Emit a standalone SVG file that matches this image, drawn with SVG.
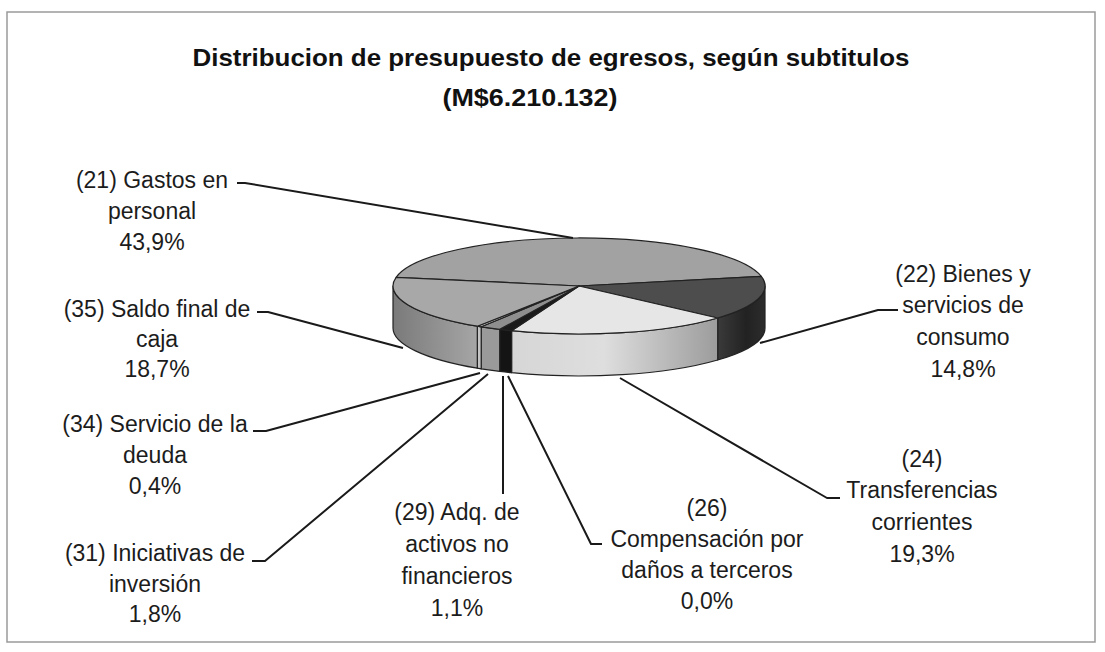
<svg xmlns="http://www.w3.org/2000/svg" width="1105" height="652" viewBox="0 0 1105 652">
  <style>
    .lbl { font-family: "Liberation Sans", Arial, sans-serif; font-size: 23px; fill: #1c1c1c; text-anchor: middle; }
    .ttl { font-family: "Liberation Sans", Arial, sans-serif; font-size: 24px; font-weight: bold; fill: #111; text-anchor: middle; }
    .ld { fill: none; stroke: #1a1a1a; stroke-width: 2; stroke-linejoin: round; }
    .edge { stroke: #222; stroke-width: 1.2; stroke-linejoin: round; }
  </style>
  <defs>
    <linearGradient id="g35" gradientUnits="userSpaceOnUse" x1="393" y1="0" x2="478" y2="0">
      <stop offset="0" stop-color="#7a7a7a"/>
      <stop offset="1" stop-color="#a6a6a6"/>
    </linearGradient>
    <linearGradient id="g24" gradientUnits="userSpaceOnUse" x1="511" y1="0" x2="718" y2="0">
      <stop offset="0" stop-color="#d6d6d6"/>
      <stop offset="0.45" stop-color="#dedede"/>
      <stop offset="1" stop-color="#9c9c9c"/>
    </linearGradient>
    <linearGradient id="g22" gradientUnits="userSpaceOnUse" x1="718" y1="0" x2="765" y2="0">
      <stop offset="0" stop-color="#3a3a3a"/>
      <stop offset="0.6" stop-color="#222"/>
      <stop offset="1" stop-color="#2c2c2c"/>
    </linearGradient>
  </defs>

  <rect x="7" y="12" width="1088" height="630" fill="#ffffff" stroke="#9a9a9a" stroke-width="1.5"/>

  <g id="title">
    <text class="ttl" x="551" y="66" textLength="717" lengthAdjust="spacingAndGlyphs">Distribucion de presupuesto de egresos, según subtitulos</text>
    <text class="ttl" x="530" y="106" textLength="175" lengthAdjust="spacingAndGlyphs">(M$6.210.132)</text>
  </g>

  <g id="pie">
    <g id="sides">
      <path class="edge" fill="url(#g22)" d="M765,286 A186,48 0 0 1 717.7,318 L717.7,360 A186,48 0 0 0 765,328 Z"/>
      <path class="edge" fill="url(#g24)" d="M717.7,318 A186,48 0 0 1 511.6,330.7 L511.6,372.7 A186,48 0 0 0 717.7,360 Z"/>
      <path class="edge" fill="#141414" d="M511.6,330.7 A186,48 0 0 1 499.7,329.4 L499.7,371.4 A186,48 0 0 0 511.6,372.7 Z"/>
      <path class="edge" fill="#9a9a9a" d="M499.7,329.4 A186,48 0 0 1 481.2,326.8 L481.2,368.8 A186,48 0 0 0 499.7,371.4 Z"/>
      <path class="edge" fill="#c4c4c4" d="M481.2,326.8 A186,48 0 0 1 477.3,326.2 L477.3,368.2 A186,48 0 0 0 481.2,368.8 Z"/>
      <path class="edge" fill="url(#g35)" d="M477.3,326.2 A186,48 0 0 1 393,286 L393,328 A186,48 0 0 0 477.3,368.2 Z"/>
    </g>
    <g id="slice-21"><path class="edge" fill="#a2a2a2" d="M579,286 L396.1,277.3 A186,48 0 0 1 761.3,276.4 Z"/></g>
    <g id="slice-22"><path class="edge" fill="#4d4d4d" d="M579,286 L761.3,276.4 A186,48 0 0 1 717.7,318 Z"/></g>
    <g id="slice-24"><path class="edge" fill="#e6e6e6" d="M579,286 L717.7,318 A186,48 0 0 1 511.6,330.7 Z"/></g>
    <g id="slice-29"><path class="edge" fill="#1a1a1a" d="M579,286 L511.6,330.7 A186,48 0 0 1 499.7,329.4 Z"/></g>
    <g id="slice-31"><path class="edge" fill="#8e8e8e" d="M579,286 L499.7,329.4 A186,48 0 0 1 481.2,326.8 Z"/></g>
    <g id="slice-34"><path class="edge" fill="#c8c8c8" d="M579,286 L481.2,326.8 A186,48 0 0 1 477.3,326.2 Z"/></g>
    <g id="slice-35"><path class="edge" fill="#a8a8a8" d="M579,286 L477.3,326.2 A186,48 0 0 1 396.1,277.3 Z"/></g>
  </g>

  <g id="connectors">
    <polyline class="ld" points="237,183 245,183 573,238"/>
    <polyline class="ld" points="257,312 268,312 403,348"/>
    <polyline class="ld" points="253,431 266,431 480,373"/>
    <polyline class="ld" points="252,561 265,561 488,374"/>
    <polyline class="ld" points="503,376 503,494"/>
    <polyline class="ld" points="508,376 591,544 602,544"/>
    <polyline class="ld" points="620,378 827,498 840,498"/>
    <polyline class="ld" points="760,343 878,310 898,310"/>
  </g>

  <g id="label-21">
    <text class="lbl" x="152" y="188">(21) Gastos en</text>
    <text class="lbl" x="152" y="219">personal</text>
    <text class="lbl" x="152" y="250">43,9%</text>
  </g>
  <g id="label-35">
    <text class="lbl" x="157" y="317">(35) Saldo final de</text>
    <text class="lbl" x="157" y="347">caja</text>
    <text class="lbl" x="157" y="377">18,7%</text>
  </g>
  <g id="label-34">
    <text class="lbl" x="155" y="432">(34) Servicio de la</text>
    <text class="lbl" x="155" y="463">deuda</text>
    <text class="lbl" x="155" y="494">0,4%</text>
  </g>
  <g id="label-31">
    <text class="lbl" x="155" y="561">(31) Iniciativas de</text>
    <text class="lbl" x="155" y="592">inversión</text>
    <text class="lbl" x="155" y="622">1,8%</text>
  </g>
  <g id="label-29">
    <text class="lbl" x="457" y="520">(29) Adq. de</text>
    <text class="lbl" x="457" y="552">activos no</text>
    <text class="lbl" x="457" y="584">financieros</text>
    <text class="lbl" x="457" y="616">1,1%</text>
  </g>
  <g id="label-26">
    <text class="lbl" x="707" y="516">(26)</text>
    <text class="lbl" x="707" y="547">Compensación por</text>
    <text class="lbl" x="707" y="578">daños a terceros</text>
    <text class="lbl" x="707" y="609">0,0%</text>
  </g>
  <g id="label-24">
    <text class="lbl" x="922" y="467">(24)</text>
    <text class="lbl" x="922" y="498">Transferencias</text>
    <text class="lbl" x="922" y="530">corrientes</text>
    <text class="lbl" x="922" y="562">19,3%</text>
  </g>
  <g id="label-22">
    <text class="lbl" x="963" y="282">(22) Bienes y</text>
    <text class="lbl" x="963" y="313">servicios de</text>
    <text class="lbl" x="963" y="345">consumo</text>
    <text class="lbl" x="963" y="377">14,8%</text>
  </g>
</svg>
